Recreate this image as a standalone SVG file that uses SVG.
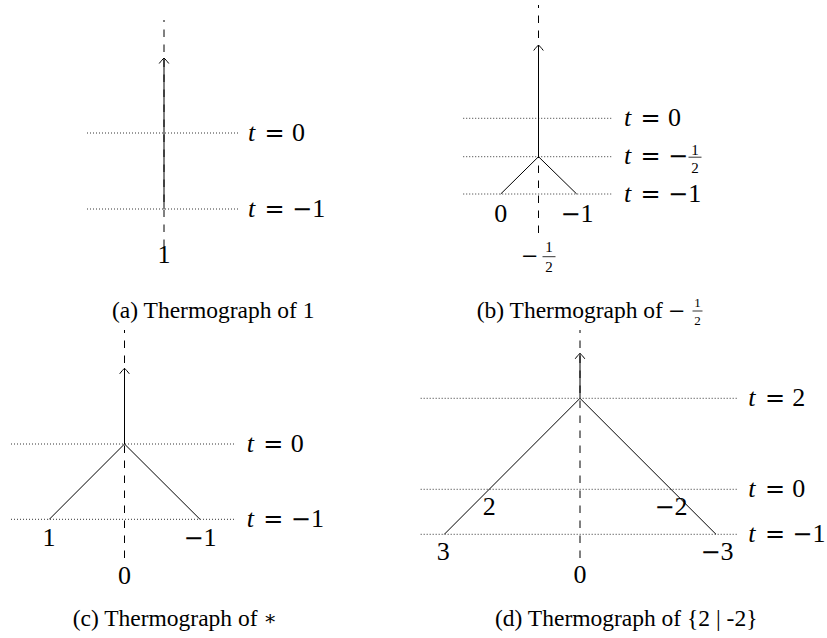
<svg xmlns="http://www.w3.org/2000/svg" width="827" height="638" viewBox="0 0 827 638">
<defs>
<marker id="arr" markerUnits="userSpaceOnUse" viewBox="-7 -7 14 14" markerWidth="14" markerHeight="14" refX="0" refY="0" orient="auto">
<path d="M-5.5,-4.8 C-3,-3 -1,-1 0,0 C-1,1 -3,3 -5.5,4.8" fill="none" stroke="#000" stroke-width="1"/>
</marker>
</defs>
<style>
.ax{stroke:#000;stroke-width:1;stroke-dasharray:7.5 7.5;fill:none}
.dot{stroke:#000;stroke-width:0.9;stroke-dasharray:0.9 2.1;fill:none}
.ln{stroke:#000;stroke-width:1;fill:none}
.mast{stroke:#000;stroke-width:1;marker-end:url(#arr)}
.bar{stroke:#000;stroke-width:0.8}
.m{font-family:"Liberation Serif","Times New Roman",serif;font-size:26px;fill:#000}
.i{font-style:italic}
.op{font-family:"DejaVu Serif",serif;font-size:24px}
.op2{font-family:"DejaVu Serif",serif;font-size:21px}
.fr{font-family:"Liberation Serif",serif;font-size:15px}
.mid{text-anchor:middle}
.cap{font-family:"Liberation Serif","Times New Roman",serif;font-size:23.5px;fill:#000}
</style>

<!-- (a) Thermograph of 1 -->
<g id="panel-a">
<g id="a-connectors">
<line class="dot" x1="87" y1="133" x2="239" y2="133"/>
<line class="dot" x1="87" y1="209" x2="239" y2="209"/>
<line class="ax" x1="164" y1="247" x2="164" y2="20"/>
<line class="mast" x1="164" y1="209" x2="164" y2="58"/>
</g>
<g id="a-labels">
<text class="m" y="141"><tspan class="i" x="248">t</tspan><tspan class="op" x="264.6">=</tspan><tspan x="292">0</tspan></text>
<text class="m" y="217"><tspan class="i" x="248">t</tspan><tspan class="op" x="264.6">=</tspan><tspan class="op" x="292">−</tspan><tspan x="312.2">1</tspan></text>
<text class="m mid" x="164" y="263">1</text>
</g>
<text id="cap-a" class="cap" x="112" y="318">(a) Thermograph of 1</text>
</g>

<!-- (b) Thermograph of -1/2 -->
<g id="panel-b">
<g id="b-connectors">
<line class="dot" x1="463.3" y1="118.3" x2="612.7" y2="118.3"/>
<line class="dot" x1="463.3" y1="156.7" x2="612.7" y2="156.7"/>
<line class="dot" x1="463.3" y1="194" x2="612.7" y2="194"/>
<line class="ax" x1="538.5" y1="233" x2="538.5" y2="5"/>
<line class="mast" x1="538.5" y1="156.7" x2="538.5" y2="45"/>
<path class="ln" d="M500.7,194 L538.5,156.7 L576.7,194"/>
</g>
<g id="b-labels">
<text class="m" y="126.3"><tspan class="i" x="624">t</tspan><tspan class="op" x="640.6">=</tspan><tspan x="668">0</tspan></text>
<text class="m" y="164.2"><tspan class="i" x="624">t</tspan><tspan class="op" x="640.6">=</tspan><tspan class="op" x="668">−</tspan></text>
<text class="fr mid" x="695" y="155">1</text>
<line class="bar" x1="688.5" y1="157.2" x2="701.5" y2="157.2"/>
<text class="fr mid" x="695" y="173">2</text>
<text class="m" y="202"><tspan class="i" x="624">t</tspan><tspan class="op" x="640.6">=</tspan><tspan class="op" x="668">−</tspan><tspan x="688.2">1</tspan></text>
<text class="m mid" x="500.7" y="221.5">0</text>
<text class="m mid" x="577" y="221.5"><tspan class="op">−</tspan>1</text>
<text class="m" x="521" y="263"><tspan class="op2">−</tspan></text>
<text class="fr mid" x="549" y="251.7">1</text>
<line class="bar" x1="542.5" y1="256.7" x2="555.5" y2="256.7"/>
<text class="fr mid" x="549" y="271.7">2</text>
</g>
<g id="cap-b">
<text class="cap" x="476.7" y="318">(b) Thermograph of</text>
<text class="cap" x="668" y="318"><tspan class="op2">−</tspan></text>
<text class="fr mid" style="font-size:13px" x="697.5" y="307">1</text>
<line class="bar" x1="692.5" y1="311" x2="702.5" y2="311"/>
<text class="fr mid" style="font-size:13px" x="697.5" y="325">2</text>
</g>
</g>

<!-- (c) Thermograph of * -->
<g id="panel-c">
<g id="c-connectors">
<line class="dot" x1="11" y1="444" x2="236" y2="444"/>
<line class="dot" x1="11" y1="519.3" x2="236" y2="519.3"/>
<line class="ax" x1="124.5" y1="558" x2="124.5" y2="330"/>
<line class="mast" x1="124.5" y1="444" x2="124.5" y2="368.3"/>
<path class="ln" d="M49.3,519.3 L124.5,444 L200,519.3"/>
</g>
<g id="c-labels">
<text class="m" y="452"><tspan class="i" x="246.7">t</tspan><tspan class="op" x="263.3">=</tspan><tspan x="290.7">0</tspan></text>
<text class="m" y="527.3"><tspan class="i" x="246.7">t</tspan><tspan class="op" x="263.3">=</tspan><tspan class="op" x="290.7">−</tspan><tspan x="310.9">1</tspan></text>
<text class="m mid" x="49" y="546">1</text>
<text class="m mid" x="200" y="546"><tspan class="op">−</tspan>1</text>
<text class="m mid" x="124.5" y="584">0</text>
</g>
<text id="cap-c" class="cap" x="72.7" y="626">(c) Thermograph of <tspan style="font-family:'DejaVu Serif',serif;font-size:20px" dy="-1">∗</tspan></text>
</g>

<!-- (d) Thermograph of {2 | -2} -->
<g id="panel-d">
<g id="d-connectors">
<line class="dot" x1="420.7" y1="398.3" x2="738.3" y2="398.3"/>
<line class="dot" x1="420.7" y1="489.3" x2="738.3" y2="489.3"/>
<line class="dot" x1="420.7" y1="534.3" x2="738.3" y2="534.3"/>
<line class="ax" x1="580" y1="558" x2="580" y2="330"/>
<line class="mast" x1="580" y1="398.3" x2="580" y2="353.3"/>
<path class="ln" d="M444.3,534.3 L580,398.3 L716,534.3"/>
</g>
<g id="d-labels">
<text class="m" y="406.3"><tspan class="i" x="748.3">t</tspan><tspan class="op" x="764.9">=</tspan><tspan x="792.3">2</tspan></text>
<text class="m" y="497.3"><tspan class="i" x="748.3">t</tspan><tspan class="op" x="764.9">=</tspan><tspan x="792.3">0</tspan></text>
<text class="m" y="542.3"><tspan class="i" x="748.3">t</tspan><tspan class="op" x="764.9">=</tspan><tspan class="op" x="792.3">−</tspan><tspan x="812.5">1</tspan></text>
<text class="m mid" x="489.3" y="515">2</text>
<text class="m mid" x="671" y="515"><tspan class="op">−</tspan>2</text>
<text class="m mid" x="443.3" y="560">3</text>
<text class="m mid" x="717" y="560"><tspan class="op">−</tspan>3</text>
<text class="m mid" x="580" y="583">0</text>
</g>
<text id="cap-d" class="cap" x="495" y="626">(d) Thermograph of {2 | -2}</text>
</g>
</svg>
